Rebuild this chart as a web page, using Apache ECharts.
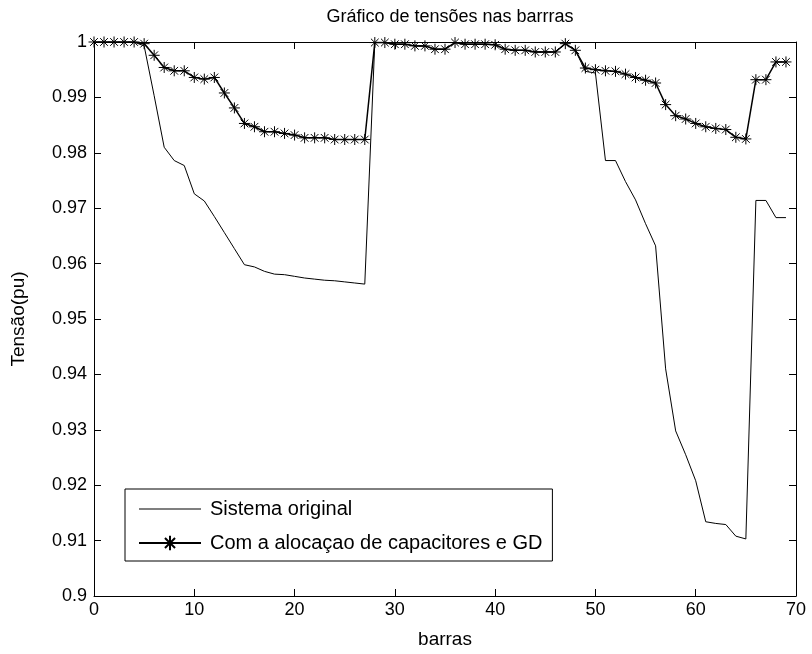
<!DOCTYPE html>
<html>
<head>
<meta charset="utf-8">
<script src="https://cdn.jsdelivr.net/npm/echarts@6/dist/echarts.min.js"></script>
<style>html,body{margin:0;padding:0;background:#fff;}#c{width:812px;height:654px;}</style>
</head>
<body>
<div id="c"></div>
<script>
var barras = [0,1,2,3,4,5,6,7,8,9,10,11,12,13,14,15,16,17,18,19,20,21,22,23,24,25,26,27,28,29,30,31,32,33,34,35,36,37,38,39,40,41,42,43,44,45,46,47,48,49,50,51,52,53,54,55,56,57,58,59,60,61,62,63,64,65,66,67,68,69];
var sistemaOriginal = [1.0000,1.0000,1.0000,1.0000,1.0000,0.9993,0.9903,0.9810,0.9786,0.9777,
  0.9726,0.9713,0.9685,0.9656,0.9627,0.9598,0.9594,0.9586,0.9581,0.9580,
  0.9577,0.9574,0.9572,0.9570,0.9569,0.9567,0.9565,0.9563,0.9999,0.9999,
  0.9996,0.9996,0.9993,0.9993,0.9987,0.9987,0.9999,0.9996,0.9996,0.9996,
  0.9995,0.9987,0.9985,0.9985,0.9982,0.9982,0.9982,0.9997,0.9985,0.9947,
  0.9944,0.9786,0.9786,0.9748,0.9715,0.9672,0.9632,0.9410,0.9298,0.9255,
  0.9208,0.9134,0.9131,0.9129,0.9108,0.9103,0.9714,0.9714,0.9683,0.9683];
var comAlocacao = [1.0000,1.0000,1.0000,1.0000,1.0000,0.9997,0.9976,0.9954,0.9948,0.9948,
  0.9936,0.9933,0.9936,0.9908,0.9881,0.9853,0.9847,0.9838,0.9838,0.9835,
  0.9832,0.9827,0.9827,0.9827,0.9824,0.9824,0.9824,0.9824,0.9999,0.9999,
  0.9996,0.9996,0.9993,0.9993,0.9987,0.9987,0.9999,0.9996,0.9996,0.9996,
  0.9995,0.9987,0.9985,0.9985,0.9982,0.9982,0.9982,0.9997,0.9985,0.9953,
  0.9950,0.9948,0.9947,0.9942,0.9936,0.9931,0.9926,0.9887,0.9867,0.9861,
  0.9853,0.9847,0.9844,0.9842,0.9828,0.9825,0.9932,0.9932,0.9964,0.9964];
var seriesNames = ['Sistema original', 'Com a alocaçao de capacitores e GD'];
var titulo = 'Gráfico de tensões nas barrras';
var nomeX = 'barras';
var nomeY = 'Tensão(pu)';

function pairs(xs, ys) { return xs.map(function (x, i) { return [x, ys[i]]; }); }

var FONT = '"Liberation Sans", Arial, sans-serif';
var chart = echarts.init(document.getElementById('c'), null, {renderer: 'canvas'});
var asterisk = 'path://M0,-1L0,1M-1,0L1,0M-0.7,-0.7L0.7,0.7M-0.7,0.7L0.7,-0.7';

var axisCommon = {
  axisLine: {show: true, onZero: false, lineStyle: {color: '#000', width: 1}},
  axisTick: {show: true, inside: true, length: 7, lineStyle: {color: '#000'}},
  splitLine: {show: false}
};

chart.setOption({
  animation: false,
  backgroundColor: '#fff',
  title: {
    text: titulo, left: 445, top: 3, textAlign: 'center',
    textStyle: {fontFamily: FONT, fontSize: 18, fontWeight: 'normal', color: '#000'}
  },
  grid: {left: 94, right: 16, top: 42, bottom: 51, containLabel: false},
  legend: {
    orient: 'vertical', left: 125, top: 489,
    padding: [10, 10, 8, 13], itemWidth: 62, itemHeight: 18, itemGap: 14,
    borderColor: '#000', borderWidth: 1, backgroundColor: '#fff',
    textStyle: {fontFamily: FONT, fontSize: 20, color: '#000', padding: [0, 0, 0, 4]},
    data: [
      {name: seriesNames[0], icon: 'path://M0,0H62V1H0Z', itemStyle: {color: '#000'}},
      {name: seriesNames[1]}
    ]
  },
  xAxis: [
    Object.assign({}, axisCommon, {
      type: 'value', min: 0, max: 70, interval: 10, position: 'bottom',
      name: nomeX, nameLocation: 'middle', nameGap: 34,
      nameTextStyle: {fontFamily: FONT, fontSize: 19, color: '#000'},
      axisLabel: {fontFamily: FONT, fontSize: 18, color: '#000', margin: 5}
    }),
    Object.assign({}, axisCommon, {
      type: 'value', min: 0, max: 70, interval: 10, position: 'top',
      axisLabel: {show: false}
    })
  ],
  yAxis: [
    Object.assign({}, axisCommon, {
      type: 'value', min: 0.9, max: 1, interval: 0.01, position: 'left',
      name: nomeY, nameLocation: 'middle', nameGap: 66,
      nameTextStyle: {fontFamily: FONT, fontSize: 19, color: '#000'},
      axisLabel: {fontFamily: FONT, fontSize: 18, color: '#000', margin: 7,
        formatter: function (v) { return String(+v.toFixed(2)); }}
    }),
    Object.assign({}, axisCommon, {
      type: 'value', min: 0.9, max: 1, interval: 0.01, position: 'right',
      axisLabel: {show: false}
    })
  ],
  series: [
    {
      name: seriesNames[0], type: 'line', xAxisIndex: 0, yAxisIndex: 0,
      data: pairs(barras, sistemaOriginal),
      showSymbol: false, symbol: 'none',
      lineStyle: {color: '#000', width: 1},
      itemStyle: {color: '#000'},
      z: 2
    },
    {
      name: seriesNames[1], type: 'line', xAxisIndex: 0, yAxisIndex: 0,
      data: pairs(barras, comAlocacao),
      symbol: asterisk, symbolSize: 11, showAllSymbol: true,
      lineStyle: {color: '#000', width: 1.5},
      itemStyle: {color: 'none', borderColor: '#000', borderWidth: 1},
      z: 3
    }
  ]
});
</script>
</body>
</html>
